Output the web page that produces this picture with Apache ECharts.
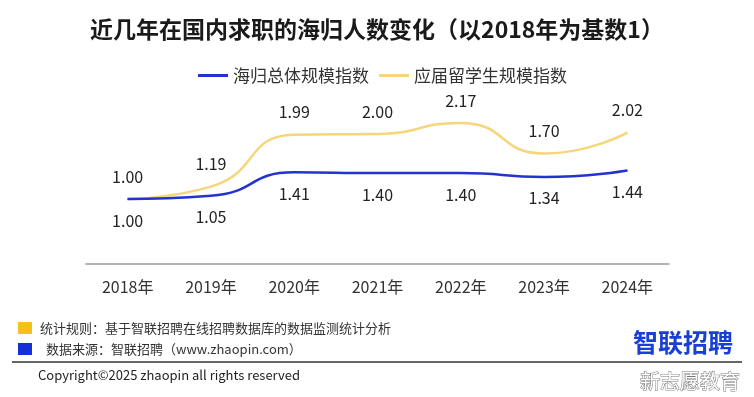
<!DOCTYPE html>
<html>
<head>
<meta charset="utf-8">
<script src="https://cdn.jsdelivr.net/npm/echarts@6/dist/echarts.min.js"></script>
<style>
html,body{margin:0;padding:0;background:#fff;}
#chart{width:754px;height:397px;}
</style>
</head>
<body>
<div id="chart"></div>
<script>
const categories = ['2018年','2019年','2020年','2021年','2022年','2023年','2024年'];
const overallIndex = [1.00, 1.05, 1.41, 1.40, 1.40, 1.34, 1.44];
const graduateIndex = [1.00, 1.19, 1.99, 2.00, 2.17, 1.70, 2.02];
const seriesNames = ['海归总体规模指数', '应届留学生规模指数'];
const titleText = '近几年在国内求职的海归人数变化（以2018年为基数1）';
const noteRule = '统计规则：基于智联招聘在线招聘数据库的数据监测统计分析';
const noteSource = '数据来源：智联招聘（www.zhaopin.com）';
const copyright = 'Copyright©2025 zhaopin all rights reserved';

const FONT = '"Noto Sans CJK SC", "Noto Sans", sans-serif';
const chart = echarts.init(document.getElementById('chart'));
chart.setOption({
  backgroundColor: '#ffffff',
  animation: false,
  textStyle: { fontFamily: FONT },
  title: {
    text: titleText,
    left: 'center',
    top: 13,
    textStyle: { fontSize: 23, fontWeight: 'bold', color: '#1a1a1a', fontFamily: FONT }
  },
  legend: {
    left: 193,
    top: 62,
    icon: 'rect',
    itemWidth: 30,
    itemHeight: 3,
    itemGap: 10,
    textStyle: { fontSize: 17, color: '#333', fontFamily: FONT },
    data: seriesNames
  },
  grid: { left: 86, right: 85, top: 101.5, bottom: 133 },
  xAxis: {
    type: 'category',
    data: categories,
    boundaryGap: true,
    axisLine: { lineStyle: { color: '#9a9a9a', width: 1.5 } },
    axisTick: { show: false },
    axisLabel: { fontSize: 16, color: '#333', margin: 15, fontFamily: FONT }
  },
  yAxis: {
    type: 'value', min: 0, max: 2.5, show: false,
    splitLine: { show: false }
  },
  series: [
    {
      name: seriesNames[0], type: 'line', data: overallIndex,
      smooth: 0.55, symbol: 'circle', symbolSize: 1, showSymbol: true, z: 3,
      lineStyle: { color: '#2433cf', width: 2.5 },
      itemStyle: { color: '#2433cf' },
      label: { show: true, position: 'bottom', distance: 13, fontSize: 16, color: '#222',
        formatter: p => p.value.toFixed(2) }
    },
    {
      name: seriesNames[1], type: 'line', data: graduateIndex,
      smooth: 0.55, symbol: 'circle', symbolSize: 1, showSymbol: true, z: 2,
      lineStyle: { color: '#f6d67c', width: 2.5 },
      itemStyle: { color: '#f6d67c' },
      label: { show: true, position: 'top', distance: 14, fontSize: 16, color: '#222',
        formatter: p => p.value.toFixed(2) }
    }
  ],
  graphic: [
    { type: 'rect', shape: { x: 18, y: 322, width: 14, height: 12 }, style: { fill: '#f7bf1a' } },
    { type: 'text', x: 40, y: 328, style: { text: noteRule, fill: '#333', font: '13px ' + FONT, textVerticalAlign: 'middle' } },
    { type: 'rect', shape: { x: 18, y: 343, width: 14, height: 12 }, style: { fill: '#1430d6' } },
    { type: 'text', x: 46, y: 349, style: { text: noteSource, fill: '#333', font: '13px ' + FONT, textVerticalAlign: 'middle' } },
    { type: 'text', x: 633, y: 342, style: { text: '智联招聘', fill: '#1a3fd6', font: 'bold 25px ' + FONT, textVerticalAlign: 'middle' } },
    { type: 'line', shape: { x1: 12, y1: 362, x2: 742, y2: 362 }, style: { stroke: '#333', lineWidth: 1.5 } },
    { type: 'text', x: 38, y: 375, style: { text: copyright, fill: '#222', font: '13px ' + FONT, textVerticalAlign: 'middle' } },
    { type: 'text', x: 640, y: 381, style: { text: '新志愿教育', fill: '#ffffff', stroke: '#777', lineWidth: 1, font: '20px ' + FONT, textVerticalAlign: 'middle' } }
  ]
});
</script>
</body>
</html>
